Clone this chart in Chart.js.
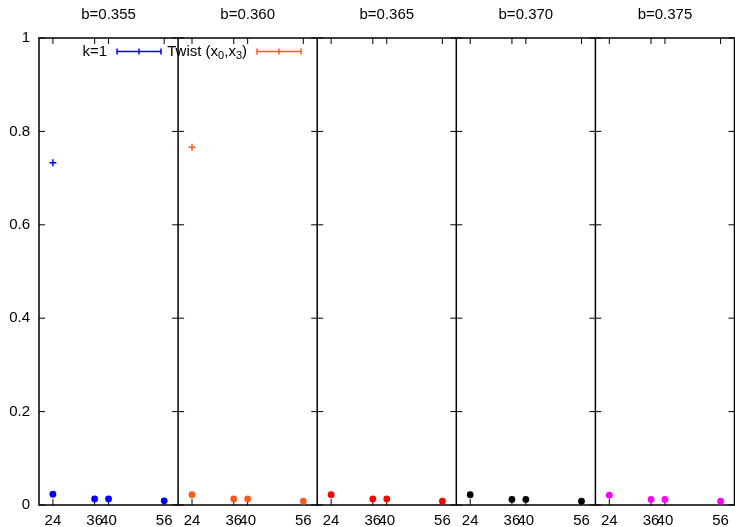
<!DOCTYPE html>
<html>
<head>
<meta charset="utf-8">
<script src="https://cdn.jsdelivr.net/npm/chart.js@4/dist/chart.umd.min.js"></script>
<style>
  html, body { margin: 0; padding: 0; overflow: hidden; background: #fff; }
  #wrap { width: 740px; height: 527px; }
</style>
</head>
<body>
<div id="wrap"><canvas id="c" width="740" height="527"></canvas></div>
<script>
// Panels: one per b value, each showing the same lattice sizes L
const bValues = ['0.355', '0.360', '0.365', '0.370', '0.375'];
const latticeSizes = [24, 36, 40, 56];
const yTickValues = [0, 0.2, 0.4, 0.6, 0.8, 1];
const panelColors = ['#0000ff', '#ff5a1e', '#ff0000', '#000000', '#ff00ff'];

// Dot values per panel, in latticeSizes order
const panel0355 = [0.023, 0.013, 0.013, 0.009];
const panel0360 = [0.022, 0.013, 0.013, 0.008];
const panel0365 = [0.022, 0.013, 0.013, 0.008];
const panel0370 = [0.022, 0.012, 0.012, 0.008];
const panel0375 = [0.021, 0.012, 0.012, 0.008];
const panelValues = [panel0355, panel0360, panel0365, panel0370, panel0375];

// Error-bar series
const kOneL = [24];
const kOneValues = [0.733];
const twistL = [24];
const twistValues = [0.766];

// Each panel spans L = 20..60 on a shared linear axis
const L_MIN = 20, L_MAX = 60, SPAN = L_MAX - L_MIN;
const pos = (panel, L) => panel * SPAN + (L - L_MIN);

const FONT = "'Liberation Sans', Arial, Helvetica, sans-serif";
const FS = 15;

const datasets = [];
panelValues.forEach((vals, p) => {
  datasets.push({
    label: 'b=' + bValues[p],
    data: latticeSizes.map((L, i) => ({ x: pos(p, L), y: vals[i] })),
    pointStyle: 'circle',
    pointRadius: 3.4,
    backgroundColor: panelColors[p],
    borderWidth: 0,
    inKey: false
  });
});
datasets.push({
  label: 'k=1',
  data: kOneL.map((L, i) => ({ x: pos(0, L), y: kOneValues[i] })),
  pointStyle: 'cross',
  pointRadius: 3.5,
  borderColor: '#0000ff',
  borderWidth: 1.5,
  inKey: true,
  keyParts: [['k=1', false]]
});
datasets.push({
  label: 'Twist (x0,x3)',
  data: twistL.map((L, i) => ({ x: pos(1, L), y: twistValues[i] })),
  pointStyle: 'cross',
  pointRadius: 3.5,
  borderColor: '#ff5a1e',
  borderWidth: 1.5,
  inKey: true,
  keyParts: [['Twist (x', false], ['0', true], [',x', false], ['3', true], [')', false]]
});

// Panel frames with inward ticks on all four sides
const framePlugin = {
  id: 'frames',
  beforeDatasetsDraw(chart) {
    const { ctx, chartArea: a } = chart;
    const xs = chart.scales.x, ys = chart.scales.y;
    const T = 6;
    ctx.save();
    ctx.strokeStyle = '#000';
    ctx.lineWidth = 1;
    for (let p = 0; p < bValues.length; p++) {
      const l = xs.getPixelForValue(p * SPAN), r = xs.getPixelForValue((p + 1) * SPAN);
      ctx.beginPath();
      yTickValues.forEach(v => {
        const y = ys.getPixelForValue(v);
        ctx.moveTo(l, y); ctx.lineTo(l + T, y);
        ctx.moveTo(r, y); ctx.lineTo(r - T, y);
      });
      latticeSizes.forEach(L => {
        const x = xs.getPixelForValue(pos(p, L));
        ctx.moveTo(x, a.bottom); ctx.lineTo(x, a.bottom - T);
        ctx.moveTo(x, a.top); ctx.lineTo(x, a.top + T);
      });
      ctx.stroke();
    }
    ctx.lineWidth = 1.5;
    ctx.beginPath();
    ctx.rect(a.left, a.top, a.right - a.left, a.bottom - a.top);
    for (let p = 1; p < bValues.length; p++) {
      const x = xs.getPixelForValue(p * SPAN);
      ctx.moveTo(x, a.top); ctx.lineTo(x, a.bottom);
    }
    ctx.stroke();
    ctx.restore();
  }
};

// Key: right-justified text followed by an error-bar sample
const keyPlugin = {
  id: 'key',
  afterDraw(chart) {
    const { ctx, chartArea: a } = chart;
    const y = a.top + 13.5;
    const entries = chart.data.datasets.filter(d => d.inKey);
    const textEnds = [a.left + 68, a.left + 208];
    ctx.save();
    ctx.textBaseline = 'middle';
    ctx.fillStyle = '#000';
    entries.forEach((d, i) => {
      const parts = d.keyParts;
      const widths = parts.map(([t, sub]) => {
        ctx.font = (sub ? 11 : FS) + 'px ' + FONT;
        return ctx.measureText(t).width;
      });
      let x = textEnds[i] - widths.reduce((s, w) => s + w, 0);
      parts.forEach(([t, sub], k) => {
        ctx.font = (sub ? 11 : FS) + 'px ' + FONT;
        ctx.textAlign = 'left';
        ctx.fillText(t, x, sub ? y + 4 : y);
        x += widths[k];
      });
      const x1 = textEnds[i] + 10, x2 = x1 + 44, xm = (x1 + x2) / 2;
      ctx.strokeStyle = d.borderColor;
      ctx.lineWidth = 1.5;
      ctx.beginPath();
      ctx.moveTo(x1, y); ctx.lineTo(x2, y);
      [x1, xm, x2].forEach(xx => { ctx.moveTo(xx, y - 3); ctx.lineTo(xx, y + 3); });
      ctx.stroke();
    });
    ctx.restore();
  }
};

new Chart(document.getElementById('c'), {
  type: 'scatter',
  data: { datasets },
  options: {
    responsive: false,
    animation: false,
    events: [],
    devicePixelRatio: 1,
    layout: { padding: { left: 0, right: 3, top: 0, bottom: 0 } },
    plugins: { legend: { display: false }, tooltip: { enabled: false } },
    scales: {
      x: {
        type: 'linear',
        position: 'bottom',
        min: 0,
        max: SPAN * bValues.length,
        grid: { display: false, drawTicks: false },
        border: { display: false },
        afterBuildTicks(scale) {
          const t = [];
          bValues.forEach((b, p) => latticeSizes.forEach(L => t.push({ value: pos(p, L) })));
          scale.ticks = t;
        },
        afterFit(scale) { scale.height = 22; },
        ticks: {
          autoSkip: false,
          maxRotation: 0,
          padding: 7,
          color: '#000',
          font: { family: FONT, size: FS },
          callback: (v, i) => String(latticeSizes[i % latticeSizes.length])
        }
      },
      xTop: {
        type: 'linear',
        position: 'top',
        min: 0,
        max: SPAN * bValues.length,
        grid: { display: false, drawTicks: false },
        border: { display: false },
        afterBuildTicks(scale) {
          scale.ticks = bValues.map((b, p) => ({ value: p * SPAN + SPAN / 2 }));
        },
        afterFit(scale) { scale.height = 38; },
        ticks: {
          autoSkip: false,
          maxRotation: 0,
          padding: 14,
          color: '#000',
          font: { family: FONT, size: FS },
          callback: (v, i) => 'b=' + bValues[i]
        }
      },
      y: {
        type: 'linear',
        min: 0,
        max: 1,
        grid: { display: false, drawTicks: false },
        border: { display: false },
        afterBuildTicks(scale) {
          scale.ticks = yTickValues.map(v => ({ value: v }));
        },
        afterFit(scale) { scale.width = 39; },
        ticks: {
          padding: 9,
          color: '#000',
          font: { family: FONT, size: FS },
          callback: v => String(+v.toFixed(1))
        }
      }
    }
  },
  plugins: [framePlugin, keyPlugin]
});
</script>
</body>
</html>
